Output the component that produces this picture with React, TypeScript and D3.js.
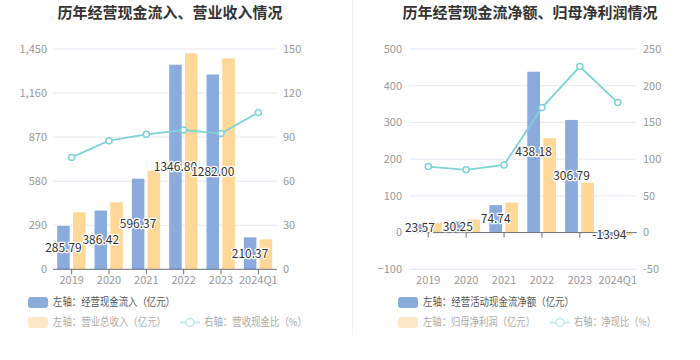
import React from "react";
import * as d3 from "d3";

const years = ["2019", "2020", "2021", "2022", "2023", "2024Q1"];

// Left chart
const cashInflow = [285.79, 386.42, 596.37, 1346.8, 1282.0, 210.37];
const revenue = [375, 441, 649, 1421, 1388, 197];
const cashRatio = [76.2, 87.6, 91.9, 94.8, 92.4, 106.8];
const leftTicksL = [0, 290, 580, 870, 1160, 1450];
const leftTicksR = [0, 30, 60, 90, 120, 150];

// Right chart
const netCash = [23.57, 30.25, 74.74, 438.18, 306.79, -13.94];
const netProfit = [26.2, 35.4, 81.8, 257, 136, -7.9];
const netRatio = [89.9, 85.4, 92.2, 170.3, 226, 177];
const rightTicksL = [-100, 0, 100, 200, 300, 400, 500];
const rightTicksR = [-50, 0, 50, 100, 150, 200, 250];

const BLUE = "#8aabdb";
const YELLOW = "#ffd797";
const TEAL = "#7dd3d5";
const FONT = "'Noto Sans CJK SC', 'Noto Sans', sans-serif";

type PanelProps = {
  title: string;
  titleX: number;
  x0: number;
  x1: number;
  bars1: number[];
  bars2: number[];
  line: number[];
  ticksL: number[];
  ticksR: number[];
  leftLabelX: number;
  rightLabelX: number;
  legend1: string;
  legend2: string;
  legend3: string;
  legendW: number[];
  legendX: number;
  legendLineX: number;
};

function Panel(p: PanelProps) {
  const top = 49;
  const bottom = 269.3;
  const x = d3.scaleBand<string>().domain(years).range([p.x0, p.x1]);
  const yL = d3
    .scaleLinear()
    .domain([p.ticksL[0], p.ticksL[p.ticksL.length - 1]])
    .range([bottom, top]);
  const yR = d3
    .scaleLinear()
    .domain([p.ticksR[0], p.ticksR[p.ticksR.length - 1]])
    .range([bottom, top]);
  const bw = x.bandwidth();
  const barW = bw * 0.335;
  const gap = bw * 0.035;
  const cx = (d: string) => (x(d) as number) + bw / 2;
  const y0 = yL(0);
  const lineGen = d3
    .line<number>()
    .x((_, i) => cx(years[i]))
    .y((d) => yR(d));

  return (
    <g fontFamily={FONT}>
      <text
        x={p.titleX}
        y={18}
        textAnchor="middle"
        fontSize={15}
        fontWeight="bold"
        fill="#333"
      >
        {p.title}
      </text>
      {p.ticksL.map((t, i) => (
        <g key={"g" + i}>
          {t !== 0 && (
            <line
              x1={p.x0}
              x2={p.x1}
              y1={yL(t)}
              y2={yL(t)}
              stroke="#e6e8f2"
              strokeWidth={1}
            />
          )}
          <text
            x={p.leftLabelX}
            y={yL(t)}
            dy="0.35em"
            textAnchor="end"
            fontSize={11}
            fill="#999"
          >
            {d3.format(",")(t)}
          </text>
          <text
            x={p.rightLabelX}
            y={yR(p.ticksR[i])}
            dy="0.35em"
            textAnchor="start"
            fontSize={11}
            fill="#999"
          >
            {p.ticksR[i]}
          </text>
        </g>
      ))}
      {p.ticksL[0] !== 0 && (
        <line x1={p.x0} x2={p.x1} y1={bottom} y2={bottom} stroke="#e6e8f2" />
      )}
      {years.map((yr, i) => {
        const v1 = p.bars1[i];
        const v2 = p.bars2[i];
        return (
          <g key={yr}>
            <rect
              x={cx(yr) - gap / 2 - barW - gap}
              y={Math.min(yL(v1), y0)}
              width={barW}
              height={Math.abs(yL(v1) - y0)}
              fill={BLUE}
            />
            <rect
              x={cx(yr) + gap / 2 + gap * 0.5}
              y={Math.min(yL(v2), y0)}
              width={barW}
              height={Math.abs(yL(v2) - y0)}
              fill={YELLOW}
            />
          </g>
        );
      })}
      <line x1={p.x0} x2={p.x1} y1={y0} y2={y0} stroke="#6e7079" strokeWidth={1} />
      {years.map((yr) => (
        <g key={"t" + yr}>
          <line x1={cx(yr)} x2={cx(yr)} y1={y0} y2={y0 + 5} stroke="#6e7079" />
          <text
            x={cx(yr)}
            y={280}
            dy="0.35em"
            textAnchor="middle"
            fontSize={11}
            fill="#999"
          >
            {yr}
          </text>
        </g>
      ))}
      <path d={lineGen(p.line) || ""} fill="none" stroke={TEAL} strokeWidth={1.8} />
      {p.line.map((v, i) => (
        <circle
          key={"c" + i}
          cx={cx(years[i])}
          cy={yR(v)}
          r={3}
          fill="#fff"
          stroke={TEAL}
          strokeWidth={1.5}
        />
      ))}
      {years.map((yr, i) => {
        const v1 = p.bars1[i];
        const bx = cx(yr) - gap / 2 - barW / 2 - gap;
        const my = (yL(v1) + y0) / 2;
        return (
          <text
            key={"l" + yr}
            x={bx}
            y={my}
            dy="0.35em"
            textAnchor="middle"
            fontSize={12}
            fill="#333"
            stroke="#fff"
            strokeWidth={2.5}
            paintOrder="stroke"
            strokeLinejoin="round"
          >
            {v1.toFixed(2)}
          </text>
        );
      })}
      {/* legend */}
      <rect x={p.legendX} y={297} width={20} height={11} rx={3} fill={BLUE} />
      <text
        x={p.legendX + 25}
        y={302.5}
        dy="0.35em"
        fontSize={11}
        fill="#555"
        textLength={p.legendW[0]}
        lengthAdjust="spacingAndGlyphs"
      >
        {p.legend1}
      </text>
      <rect x={p.legendX} y={317} width={20} height={11} rx={3} fill="#fee8c8" />
      <text
        x={p.legendX + 25}
        y={322.5}
        dy="0.35em"
        fontSize={11}
        fill="#aaa"
        textLength={p.legendW[1]}
        lengthAdjust="spacingAndGlyphs"
      >
        {p.legend2}
      </text>
      <line
        x1={p.legendLineX}
        x2={p.legendLineX + 20}
        y1={322.5}
        y2={322.5}
        stroke="#b9e8e9"
        strokeWidth={1.8}
      />
      <circle
        cx={p.legendLineX + 10}
        cy={322.5}
        r={4}
        fill="#fff"
        stroke="#b9e8e9"
        strokeWidth={1.5}
      />
      <text
        x={p.legendLineX + 24}
        y={322.5}
        dy="0.35em"
        fontSize={11}
        fill="#aaa"
        textLength={p.legendW[2]}
        lengthAdjust="spacingAndGlyphs"
      >
        {p.legend3}
      </text>
    </g>
  );
}

export default function App() {
  return (
    <svg
      width={700}
      height={360}
      style={{ display: "block", position: "absolute", left: 0, top: 0 }}
    >
      <rect width={700} height={360} fill="#fff" />
      <line x1={352.5} x2={352.5} y1={0} y2={335} stroke="#f0f0f0" />
      <Panel
        title="历年经营现金流入、营业收入情况"
        titleX={170}
        x0={53}
        x1={277}
        bars1={cashInflow}
        bars2={revenue}
        line={cashRatio}
        ticksL={leftTicksL}
        ticksR={leftTicksR}
        leftLabelX={47}
        rightLabelX={283}
        legend1="左轴：经营现金流入（亿元）"
        legend2="左轴：营业总收入（亿元）"
        legend3="右轴：营收现金比（%）"
        legendW={[122, 113, 103]}
        legendX={28}
        legendLineX={180}
      />
      <Panel
        title="历年经营现金流净额、归母净利润情况"
        titleX={530}
        x0={409.3}
        x1={636.7}
        bars1={netCash}
        bars2={netProfit}
        line={netRatio}
        ticksL={rightTicksL}
        ticksR={rightTicksR}
        leftLabelX={402}
        rightLabelX={643}
        legend1="左轴：经营活动现金流净额（亿元）"
        legend2="左轴：归母净利润（亿元）"
        legend3="右轴：净现比（%）"
        legendW={[151, 112, 82]}
        legendX={398}
        legendLineX={550}
      />
    </svg>
  );
}
